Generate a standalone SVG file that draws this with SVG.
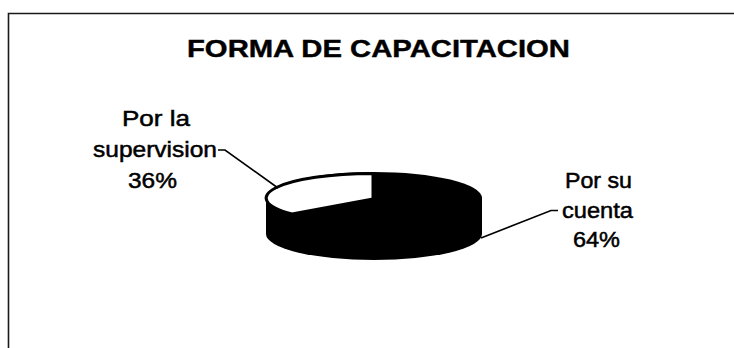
<svg xmlns="http://www.w3.org/2000/svg" width="734" height="348" viewBox="0 0 734 348">
<style>
.frame{fill:none;stroke:#1a1a1a;stroke-width:1.6}
.title{font-family:"Liberation Sans",Arial,sans-serif;font-weight:bold;font-size:24px;fill:#000;stroke:#000;stroke-width:0.4}
.lbl{font-family:"Liberation Sans",Arial,sans-serif;font-size:22px;fill:#000;stroke:#000;stroke-width:0.5}
.lead{fill:none;stroke:#000;stroke-width:1.6}
.dark{fill:#000}
.slice{fill:#fff;stroke:#000;stroke-width:3;stroke-linejoin:round}
</style>
<rect width="734" height="348" fill="#fff"/>
<path class="frame" d="M8.5,348 V13.5 H734"/>
<text class="title" x="378.5" y="57" text-anchor="middle" textLength="383" lengthAdjust="spacingAndGlyphs">FORMA DE CAPACITACION</text>
<g id="pie">
  <ellipse class="dark" cx="374" cy="234" rx="108" ry="26"/>
  <rect class="dark" x="266" y="198" width="216" height="36"/>
  <ellipse class="dark" cx="374" cy="198" rx="108" ry="26"/>
</g>
<g id="slice-supervision">
  <path class="slice" d="M373,199 L373,173.5 A106.5,24.5 0 0,0 292,214 Z"/>
  <text class="lbl" x="156" y="126" text-anchor="middle" textLength="68" lengthAdjust="spacingAndGlyphs">Por la</text>
  <text class="lbl" x="155" y="157" text-anchor="middle" textLength="124" lengthAdjust="spacingAndGlyphs">supervision</text>
  <text class="lbl" x="152.5" y="188" text-anchor="middle" textLength="49" lengthAdjust="spacingAndGlyphs">36%</text>
</g>
<g id="slice-cuenta">
  <text class="lbl" x="598.5" y="188" text-anchor="middle" textLength="67" lengthAdjust="spacingAndGlyphs">Por su</text>
  <text class="lbl" x="597.5" y="218" text-anchor="middle" textLength="71" lengthAdjust="spacingAndGlyphs">cuenta</text>
  <text class="lbl" x="596.5" y="247" text-anchor="middle" textLength="47" lengthAdjust="spacingAndGlyphs">64%</text>
</g>
<g id="connectors">
  <path class="lead" d="M218,150 H225 L278,188"/>
  <path class="lead" d="M558,210.5 H551 L481,238"/>
</g>
</svg>
